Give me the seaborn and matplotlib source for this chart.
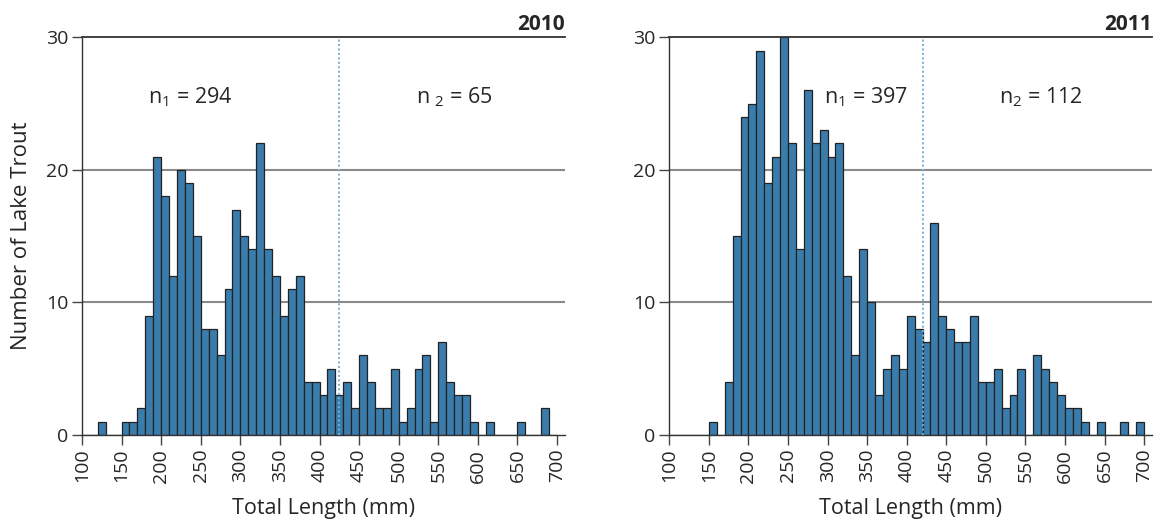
import numpy as np
import pandas as pd
import seaborn as sns
import matplotlib.pyplot as plt

# counts per 10 mm bin, bins start at 100 mm (100-110, 110-120, ... 690-700)
bin_starts = list(range(100, 700, 10))

counts_2010 = [0, 0, 1, 0, 0, 1, 1, 2, 9, 21,
               18, 12, 20, 19, 15, 8, 8, 6, 11, 17,
               15, 14, 22, 14, 12, 9, 11, 12, 4, 4,
               3, 5, 3, 4, 2, 6, 4, 2, 2, 5,
               1, 2, 5, 6, 1, 7, 4, 3, 3, 1,
               0, 1, 0, 0, 0, 1, 0, 0, 2, 0]

counts_2011 = [0, 0, 0, 0, 0, 1, 0, 4, 15, 24,
               25, 29, 19, 21, 30, 22, 14, 26, 22, 23,
               21, 22, 12, 6, 14, 10, 3, 5, 6, 5,
               9, 8, 7, 16, 9, 8, 7, 7, 9, 4,
               4, 5, 2, 3, 5, 0, 6, 5, 4, 3,
               2, 2, 1, 0, 1, 0, 0, 1, 0, 1]

years = ['2010', '2011']
cutoffs = [424, 420]
n1_labels = ['n$_1$ = 294', 'n$_1$ = 397']
n2_labels = ['n $_2$ = 65', 'n$_2$ = 112']
n1_x = [237, 349]
n2_x = [570, 570]

xticks = list(range(100, 701, 50))
yticks = [0, 10, 20, 30]

sns.set_style('white')
plt.rcParams['font.family'] = ['Open Sans', 'DejaVu Sans']
plt.rcParams['mathtext.fontset'] = 'custom'
plt.rcParams['mathtext.rm'] = 'Open Sans'
plt.rcParams['mathtext.it'] = 'Open Sans:italic'

BAR = '#3a7dad'

fig = plt.figure(figsize=(11.58, 5.22), dpi=100)
ax1 = fig.add_axes([0.0708, 0.1667, 0.4171, 0.7618])
ax2 = fig.add_axes([0.578, 0.1667, 0.4168, 0.7618])

for ax, year, counts, cut, t1, t2, x1, x2 in zip(
        [ax1, ax2], years, [counts_2010, counts_2011], cutoffs,
        n1_labels, n2_labels, n1_x, n2_x):
    df = pd.DataFrame({'length': np.array(bin_starts) + 5, 'count': counts})
    for y in [10, 20]:
        ax.axhline(y, color='#8a8a8a', lw=1.5, zorder=0)
    sns.histplot(data=df, x='length', weights='count',
                 bins=list(range(100, 710, 10)), color=BAR, alpha=1,
                 edgecolor='#222222', linewidth=0.9, ax=ax, zorder=2)
    ax.axvline(cut, color='#74b0d4', lw=1.4, ls=(0, (1.0, 1.3)), zorder=3)
    ax.text(x1, 25.5, t1, ha='center', va='center', fontsize=15.5)
    ax.text(x2, 25.5, t2, ha='center', va='center', fontsize=15.5)

    ax.set_xlim(100, 710)
    ax.set_ylim(0, 30)
    ax.set_xticks(xticks)
    ax.set_xticklabels([str(t) for t in xticks], rotation=90, fontsize=14)
    ax.set_yticks(yticks)
    ax.set_yticklabels([str(t) for t in yticks], fontsize=14)
    ax.tick_params(axis='both', direction='out', length=7, width=1,
                   color='#444444', pad=3, bottom=True, left=True)
    ax.set_title(year, loc='right', fontweight='bold', fontsize=15, pad=5)

    ax.spines['right'].set_visible(False)
    ax.spines['top'].set_color('#333333')
    ax.spines['top'].set_linewidth(1.3)
    ax.spines['left'].set_color('#333333')
    ax.spines['bottom'].set_color('#333333')
    ax.spines['left'].set_linewidth(1.0)
    ax.spines['bottom'].set_linewidth(1.0)
    ax.set_xlabel('Total Length (mm)', fontsize=15.5, labelpad=11)
    ax.set_ylabel('')

ax1.set_ylabel('Number of Lake Trout', fontsize=16, labelpad=10)

fig.savefig('out.png', dpi=100)
